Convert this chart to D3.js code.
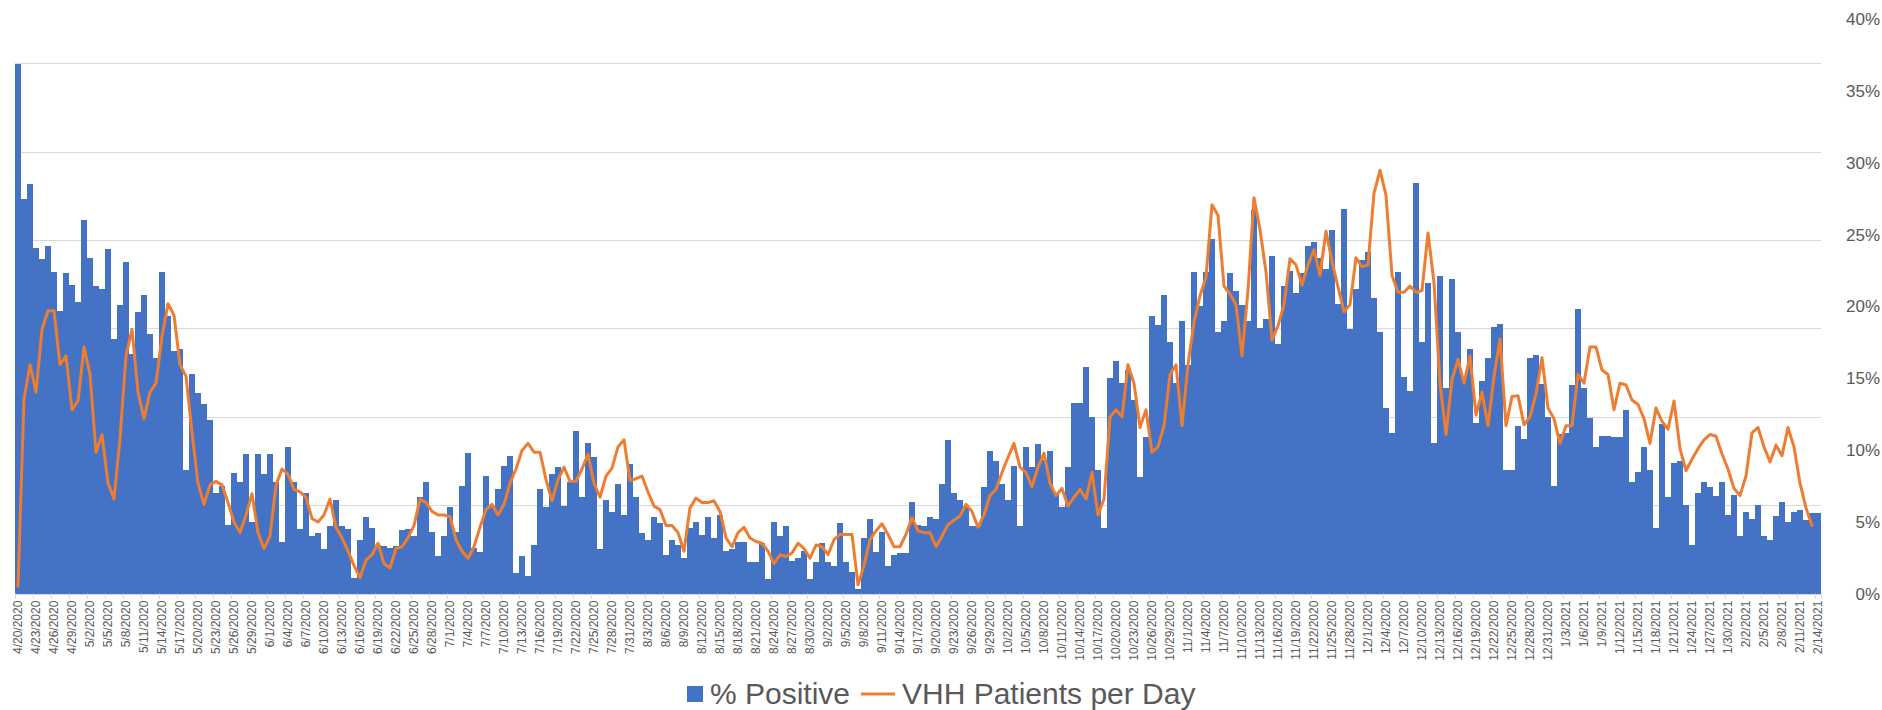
<!DOCTYPE html>
<html>
<head>
<meta charset="utf-8">
<script src="https://cdn.jsdelivr.net/npm/d3@7"></script>
<style>
  body { margin: 0; background: #ffffff; }
  svg { display: block; font-family: "Liberation Sans", Arial, sans-serif; }
</style>
</head>
<body>
<script>

//first and last day of the daily series
var firstDay = "2020-04-20";
var lastDay = "2021-02-14";

// % positive tests per day (one value per day, in percent)
var pctPositive = [
	// 4/20 - 5/14
	36.9, 27.5, 28.5, 24.1, 23.3, 24.2, 22.4, 19.7, 22.3, 21.5, 20.3, 26.0, 23.4, 21.4, 21.2, 24.0, 17.7, 20.1, 23.1, 16.7, 19.6, 20.8, 18.1, 16.4, 22.4,
	// 5/15 - 6/8
	19.3, 16.9, 17.0, 8.6, 15.3, 14.0, 13.2, 12.1, 7.0, 7.5, 4.8, 8.4, 7.8, 9.7, 5.0, 9.7, 8.3, 9.7, 7.8, 3.6, 10.2, 7.8, 4.5, 7.0, 4.0,
	// 6/9 - 7/3
	4.2, 3.1, 4.7, 6.5, 4.7, 4.5, 1.1, 3.7, 5.3, 4.6, 3.4, 3.3, 3.2, 3.3, 4.4, 4.5, 4.0, 6.7, 7.8, 4.3, 2.6, 4.0, 6.0, 4.3, 7.5,
	// 7/4 - 7/28
	9.8, 3.2, 2.9, 8.2, 6.0, 7.3, 8.9, 9.6, 1.4, 2.6, 1.2, 3.4, 7.3, 6.0, 8.3, 8.8, 6.1, 7.8, 11.3, 6.7, 10.5, 9.5, 3.1, 6.5, 5.7,
	// 7/29 - 8/22
	7.6, 5.5, 9.0, 6.7, 4.2, 3.7, 5.3, 4.9, 2.7, 3.7, 3.4, 2.5, 4.6, 5.0, 4.1, 5.3, 3.9, 5.5, 3.0, 3.1, 3.6, 3.6, 2.2, 2.2, 3.5,
	// 8/23 - 9/15
	1.0, 5.0, 4.0, 4.7, 2.3, 2.5, 3.0, 1.0, 2.2, 3.5, 2.2, 1.9, 4.9, 2.2, 1.5, 0.3, 3.9, 5.2, 2.9, 4.3, 1.9, 2.7, 2.8, 2.8,
	// 9/16 - 10/10
	6.4, 4.8, 4.7, 5.3, 5.2, 7.6, 10.7, 7.0, 6.5, 6.0, 4.7, 4.7, 7.4, 9.9, 9.2, 7.6, 6.5, 8.9, 4.7, 10.2, 8.8, 10.4, 9.3, 9.9, 7.0,
	// 10/11 - 11/4
	6.0, 8.8, 13.3, 13.3, 15.8, 12.3, 8.6, 4.6, 15.0, 16.2, 14.7, 15.6, 13.5, 8.1, 10.9, 19.3, 18.7, 20.8, 17.5, 14.7, 19.0, 15.9, 22.4, 20.0, 22.4,
	// 11/5 - 11/29
	24.7, 18.2, 19.0, 22.3, 21.1, 20.1, 19.0, 26.7, 18.5, 19.1, 23.5, 17.4, 21.4, 22.5, 20.9, 22.3, 24.2, 24.5, 23.4, 22.6, 25.3, 20.2, 26.8, 18.4, 21.2,
	// 11/30 - 12/24
	23.2, 23.8, 20.6, 18.2, 12.9, 11.2, 22.4, 15.1, 14.1, 28.6, 17.5, 21.6, 10.5, 22.1, 14.3, 21.9, 18.2, 15.1, 17.0, 11.9, 14.8, 16.4, 18.6, 18.8, 8.6,
	// 12/25 - 1/18
	8.6, 11.7, 10.8, 16.4, 16.6, 14.6, 12.3, 7.5, 11.1, 11.2, 14.5, 19.8, 14.3, 12.2, 10.2, 11.0, 11.0, 10.9, 10.9, 12.8, 7.8, 8.5, 10.2, 8.6, 4.6,
	// 1/19 - 2/14
	11.8, 6.7, 9.1, 9.2, 6.2, 3.4, 7.0, 7.8, 7.4, 6.8, 7.8, 5.5, 6.9, 4.0, 5.7, 5.2, 6.2, 4.0, 3.7, 5.4, 6.4, 5.0, 5.7, 5.8, 5.1, 5.6, 5.6
];

// VHH patients per day (plotted on a hidden secondary axis)
var vhhPatients = [
	// 4/20 - 5/14
	0.8, 22.0, 25.9, 22.8, 29.9, 32.0, 32.0, 25.9, 26.9, 20.8, 21.8, 27.9, 24.8, 16.0, 18.0, 12.5, 10.7, 17.6, 26.9, 29.9, 22.8, 19.8, 22.8, 23.8, 29.1,
	// 5/15 - 6/8
	32.8, 31.5, 25.9, 24.6, 18.2, 12.5, 10.1, 12.3, 12.7, 12.3, 10.3, 8.1, 6.9, 8.9, 11.3, 6.9, 5.1, 6.5, 12.3, 14.1, 13.5, 11.8, 11.5, 10.9, 8.5,
	// 6/9 - 7/3
	8.1, 8.9, 10.7, 7.5, 6.3, 4.8, 3.2, 1.8, 3.8, 4.4, 5.7, 3.4, 2.9, 5.1, 5.3, 6.3, 7.7, 10.7, 10.3, 9.3, 8.9, 8.9, 8.7, 6.1, 4.8,
	// 7/4 - 7/28
	4.0, 5.3, 7.5, 9.5, 10.1, 8.9, 10.1, 12.5, 14.1, 16.2, 17.0, 16.0, 16.0, 12.9, 10.5, 12.9, 14.3, 12.7, 12.7, 14.1, 15.8, 12.5, 10.9, 13.3, 14.2,
	// 7/29 - 8/22
	16.6, 17.4, 12.8, 13.0, 13.3, 11.5, 9.9, 9.5, 7.7, 7.7, 6.9, 4.8, 9.7, 10.8, 10.3, 10.3, 10.5, 9.3, 6.3, 5.3, 6.9, 7.5, 6.3, 5.9, 5.7,
	// 8/23 - 9/15
	4.8, 3.4, 4.4, 4.2, 4.6, 5.7, 5.1, 4.0, 5.5, 5.3, 4.4, 6.1, 6.7, 6.7, 6.7, 1.0, 3.2, 6.1, 7.1, 7.9, 6.7, 5.3, 5.3, 6.7,
	// 9/16 - 10/10
	8.6, 7.1, 6.9, 6.9, 5.3, 6.5, 7.8, 8.3, 8.8, 10.1, 9.3, 7.5, 8.9, 11.1, 11.8, 13.7, 15.4, 17.0, 14.3, 13.7, 12.1, 14.3, 15.9, 12.5, 11.1,
	// 10/11 - 11/4
	11.9, 9.9, 10.9, 11.8, 10.7, 13.7, 8.9, 10.7, 20.0, 20.8, 20.0, 25.9, 23.8, 18.8, 20.8, 16.0, 16.6, 19.0, 24.8, 25.9, 19.0, 25.9, 30.7, 33.7, 35.8,
	// 11/5 - 11/29
	44.0, 42.8, 34.8, 33.9, 32.7, 26.9, 34.3, 44.8, 41.2, 36.4, 28.7, 30.3, 32.7, 37.9, 37.2, 34.9, 37.2, 38.9, 36.0, 41.0, 37.6, 34.7, 31.9, 32.7, 38.0,
	// 11/30 - 12/24
	37.0, 37.2, 45.3, 47.9, 45.1, 36.0, 34.1, 34.1, 34.8, 34.1, 34.3, 40.8, 35.2, 23.8, 18.0, 24.2, 26.5, 23.8, 26.9, 20.2, 22.8, 19.0, 24.6, 28.8, 19.0,
	// 12/25 - 1/18
	22.3, 22.4, 19.1, 20.0, 22.6, 26.7, 21.0, 19.8, 17.0, 19.0, 19.0, 24.8, 23.8, 27.9, 27.9, 25.3, 24.8, 20.8, 23.8, 23.6, 21.9, 21.4, 19.8, 17.0, 21.0,
	// 1/19 - 2/14 (no value yet for the last day)
	19.5, 18.6, 21.8, 16.4, 13.9, 15.2, 16.4, 17.4, 18.0, 17.8, 15.8, 14.1, 11.9, 11.1, 13.3, 18.2, 18.8, 16.6, 14.9, 16.8, 15.6, 18.8, 16.6, 12.5, 9.7, 7.7, null
];

// right axis ticks (percent) and hidden patient axis gridlines
var pctTicks = [0, 5, 10, 15, 20, 25, 30, 35, 40];
var patientGrid = [10, 20, 30, 40, 50, 60];
var legendNames = ["% Positive", "VHH Patients per Day"];


var width = 1882, height = 710;
var plot = {left: 15, right: 1821, top: 19.2, bottom: 593.6};

var parseDay = d3.timeParse("%Y-%m-%d");
var fmtDay = d3.timeFormat("%-m/%-d/%Y");

// one category per day, labels every 3rd day
var dayLabels = d3.timeDay.range(parseDay(firstDay), d3.timeDay.offset(parseDay(lastDay), 1)).map(fmtDay);
var tickLabels = dayLabels.filter(function(d, i){ return i % 3 === 0; });

var canvas = d3.select("body")
	.append("svg")
	.attr("width", width)
	.attr("height", height);

var x = d3.scaleBand()
	.domain(dayLabels)
	.range([plot.left, plot.right])
	.padding(0);

var yPct = d3.scaleLinear()
	.domain([0, 40])
	.range([plot.bottom, plot.top]);

var yPat = d3.scaleLinear()
	.domain([0, 65])
	.range([plot.bottom, plot.top]);

// gridlines (from the hidden patient axis)
canvas.append("g")
	.selectAll("line")
	.data(patientGrid)
	.enter()
	.append("line")
	.attr("x1", plot.left)
	.attr("x2", plot.right)
	.attr("y1", function(d){ return Math.round(yPat(d)) + 0.5; })
	.attr("y2", function(d){ return Math.round(yPat(d)) + 0.5; })
	.attr("stroke", "#d9d9d9")
	.attr("stroke-width", 1);

// bars
canvas.append("g")
	.selectAll("rect")
	.data(pctPositive)
	.enter()
	.append("rect")
	.attr("x", function(d, i){ return x(dayLabels[i]); })
	.attr("width", x.bandwidth())
	.attr("y", function(d){ return yPct(d); })
	.attr("height", function(d){ return yPct(0) - yPct(d); })
	.attr("fill", "#4472c4")
	.attr("shape-rendering", "crispEdges");

// category axis line and tick marks
canvas.append("line")
	.attr("x1", plot.left)
	.attr("x2", plot.right)
	.attr("y1", Math.round(plot.bottom) + 0.5)
	.attr("y2", Math.round(plot.bottom) + 0.5)
	.attr("stroke", "#d9d9d9");

canvas.append("g")
	.selectAll("line")
	.data(tickLabels.concat([null]))
	.enter()
	.append("line")
	.attr("x1", function(d){ return (d === null ? plot.right : x(d)) + 0.5; })
	.attr("x2", function(d){ return (d === null ? plot.right : x(d)) + 0.5; })
	.attr("y1", plot.bottom)
	.attr("y2", plot.bottom + 5)
	.attr("stroke", "#d9d9d9");

// VHH patients line
var line = d3.line()
	.defined(function(d){ return d !== null; })
	.x(function(d, i){ return x(dayLabels[i]) + x.bandwidth() / 2; })
	.y(function(d){ return yPat(d); });

canvas.append("path")
	.datum(vhhPatients)
	.attr("fill", "none")
	.attr("stroke", "#ed7d31")
	.attr("stroke-width", 3)
	.attr("stroke-linejoin", "round")
	.attr("stroke-linecap", "round")
	.attr("d", line);

// date labels, rotated
canvas.append("g")
	.attr("transform", "translate(0," + plot.bottom + ")")
	.call(d3.axisBottom(x).tickValues(tickLabels).tickSize(0))
	.call(function(g){ g.select(".domain").remove(); })
	.selectAll("text")
	.attr("transform", "rotate(-90)")
	.attr("x", -7)
	.attr("y", 0)
	.attr("dy", "0.35em")
	.style("text-anchor", "end")
	.style("font-size", "12px")
	.style("font-family", "\"Liberation Sans\", Arial, sans-serif")
	.style("fill", "#595959");

// right percent axis
canvas.append("g")
	.attr("transform", "translate(1880,0)")
	.call(d3.axisLeft(yPct).tickValues(pctTicks).tickSize(0).tickPadding(0)
		.tickFormat(function(d){ return d + "%"; }))
	.call(function(g){ g.select(".domain").remove(); })
	.selectAll("text")
	.style("font-size", "17px")
	.style("font-family", "\"Liberation Sans\", Arial, sans-serif")
	.style("fill", "#595959");

// legend
var legend = canvas.append("g")
	.attr("font-size", "30px")
	.attr("fill", "#595959");

legend.append("rect")
	.attr("x", 687)
	.attr("y", 686)
	.attr("width", 16)
	.attr("height", 16)
	.attr("fill", "#4472c4");

legend.append("text")
	.attr("x", 710)
	.attr("y", 704)
	.text(legendNames[0]);

legend.append("line")
	.attr("x1", 861)
	.attr("x2", 895)
	.attr("y1", 694)
	.attr("y2", 694)
	.attr("stroke", "#ed7d31")
	.attr("stroke-width", 3);

legend.append("text")
	.attr("x", 902)
	.attr("y", 704)
	.text(legendNames[1]);

</script>
</body>
</html>
